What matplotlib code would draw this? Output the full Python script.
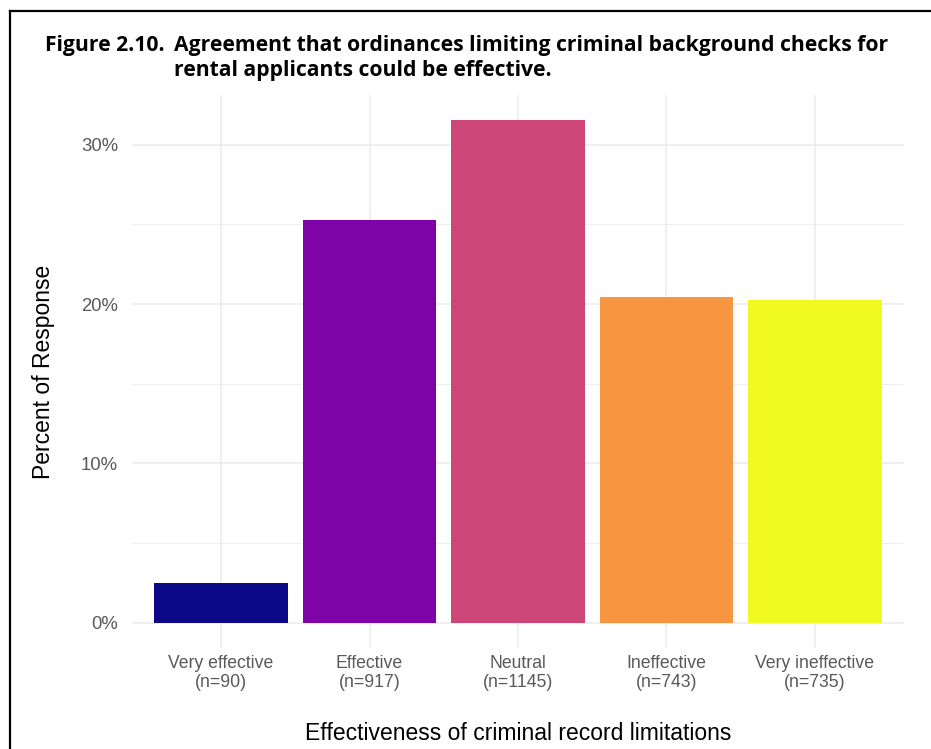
import numpy as np
import matplotlib.pyplot as plt
from matplotlib.lines import Line2D

# --- DATA ---
categories = ["Very effective", "Effective", "Neutral", "Ineffective", "Very ineffective"]
counts = [90, 917, 1145, 743, 735]
percents = [2.48, 25.26, 31.54, 20.47, 20.25]
bar_colors = ["#0D0887", "#7E03A8", "#CC4778", "#F89540", "#F0F921"]
y_ticks = [0, 10, 20, 30]
y_minor = [5, 15, 25]

W, H = 931, 749
fig = plt.figure(figsize=(W / 100, H / 100), dpi=100)
fig.patch.set_facecolor("white")

# Panel position (pixels from the reference)
left, right, top, bottom = 132, 904, 95, 648
ax = fig.add_axes([left / W, 1 - bottom / H, (right - left) / W, (bottom - top) / H])

x = np.arange(1, len(categories) + 1)
ax.bar(x, percents, width=0.9, color=bar_colors, zorder=3)

ymax = max(percents)
ax.set_xlim(0.4, len(categories) + 0.6)
ax.set_ylim(-0.05 * ymax, 1.05 * ymax)

# Grid lines, ggplot minimal style
for v in y_ticks:
    ax.axhline(v, color="#EBEBEB", lw=1.1, zorder=1)
for v in y_minor:
    ax.axhline(v, color="#EBEBEB", lw=0.6, zorder=1)
for v in x:
    ax.axvline(v, color="#EBEBEB", lw=1.1, zorder=1)

for s in ax.spines.values():
    s.set_visible(False)
ax.tick_params(length=0)
ax.set_yticks(y_ticks)
ax.set_yticklabels([f"{v}%" for v in y_ticks], fontsize=13.3, color="#595959",
                   family="Liberation Sans")
ax.tick_params(axis="y", pad=10)
ax.set_xticks(x)
ax.set_xticklabels([f"{c}\n(n={n})" for c, n in zip(categories, counts)],
                   fontsize=12.7, color="#595959", family="Liberation Sans",
                   linespacing=1.12)
ax.tick_params(axis="x", pad=5)

ax.set_ylabel("Percent of Response", fontsize=16.5, family="Liberation Sans", labelpad=19)
ax.set_xlabel("Effectiveness of criminal record limitations", fontsize=16.5,
              family="Liberation Sans", labelpad=23)

# Title
tkw = dict(fontsize=15.2, fontweight="bold", family="Open Sans", va="baseline", ha="left")
fig.text(45 / W, 1 - 51 / H, "Figure 2.10.", **tkw)
fig.text(174 / W, 1 - 51 / H, "Agreement that ordinances limiting criminal background checks for", **tkw)
fig.text(174 / W, 1 - 76 / H, "rental applicants could be effective.", **tkw)

# Border (left and top edges)
fig.add_artist(Line2D([10 / W, 10 / W], [0, 1 - 11 / H], color="black", lw=1.6,
                      transform=fig.transFigure))
fig.add_artist(Line2D([10 / W, 1], [1 - 11 / H, 1 - 11 / H], color="black", lw=1.6,
                      transform=fig.transFigure))

fig.savefig("out.png", dpi=100, facecolor="white")
